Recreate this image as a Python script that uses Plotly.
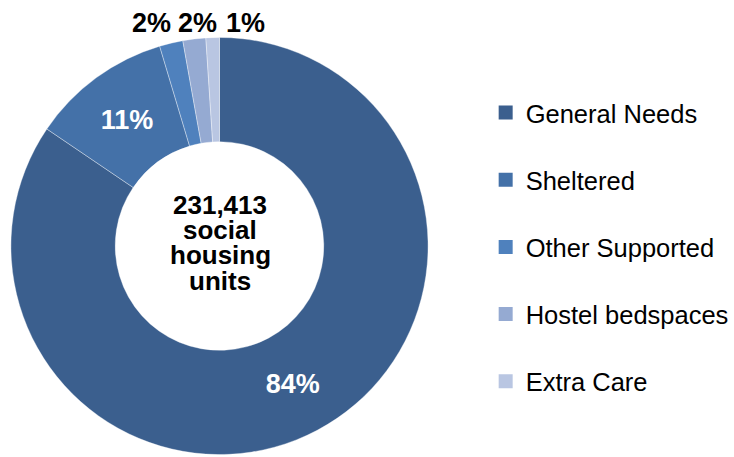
import plotly.graph_objects as go

categories = ["General Needs", "Sheltered", "Other Supported", "Hostel bedspaces", "Extra Care"]
units = [195500, 25200, 4200, 4100, 2413]
colors = ["#3B5F8E", "#4471A8", "#4F81BD", "#95AAD2", "#B9C6E2"]
center_words = ["social", "housing", "units"]

total = sum(units)
FONT = "Liberation Sans, Arial, sans-serif"
W, H = 734, 457

fig = go.Figure()
fig.add_trace(go.Pie(
    labels=categories, values=units, sort=False, direction="clockwise", rotation=0,
    hole=0.5, marker=dict(colors=colors, line=dict(color="rgba(255,255,255,0.45)", width=0.8)),
    texttemplate="%{percent:.0%}",
    textposition=["inside", "inside", "none", "none", "none"],
    insidetextorientation="horizontal",
    textfont=dict(family=FONT, size=27, color="white", weight="bold"),
    domain=dict(x=[11 / W, 431 / W], y=[1 / H, 421 / H]),
    showlegend=False, hoverinfo="label+percent",
))

for cat, col in zip(categories, colors):
    fig.add_trace(go.Scatter(
        x=[None], y=[None], mode="markers", name=cat, legendgroup=cat,
        marker=dict(symbol="square", size=14, color=col),
    ))

# outside labels for the small slices
small_pos = {2: (153, 23), 3: (199, 23), 4: (247, 23)}
for i, (px, py) in small_pos.items():
    fig.add_annotation(
        x=px / W, y=1 - py / H, xref="paper", yref="paper",
        text=f"<b>{round(units[i] / total * 100)}%</b>", showarrow=False,
        font=dict(family=FONT, size=27, color="black"),
        xanchor="center", yanchor="middle",
    )

# centre text
center_lines = [f"{total:,}"] + center_words
line_y = [205, 230, 255, 281]
for txt, ly in zip(center_lines, line_y):
    fig.add_annotation(
        x=222 / W, y=1 - ly / H, xref="paper", yref="paper",
        text=f"<b>{txt}</b>", showarrow=False,
        font=dict(family=FONT, size=26, color="black"),
        xanchor="center", yanchor="middle",
    )

fig.update_layout(
    width=W, height=H,
    margin=dict(l=0, r=0, t=0, b=0),
    paper_bgcolor="white", plot_bgcolor="white",
    xaxis=dict(visible=False), yaxis=dict(visible=False),
    legend=dict(
        x=489 / W, y=1 - 247 / H, xanchor="left", yanchor="middle",
        font=dict(family=FONT, size=25.5, color="black"),
        tracegroupgap=31, itemsizing="trace",
    ),
    showlegend=True,
)

fig.write_html("out.html", config={"displayModeBar": False},
               post_script="document.body.style.margin='0';")
